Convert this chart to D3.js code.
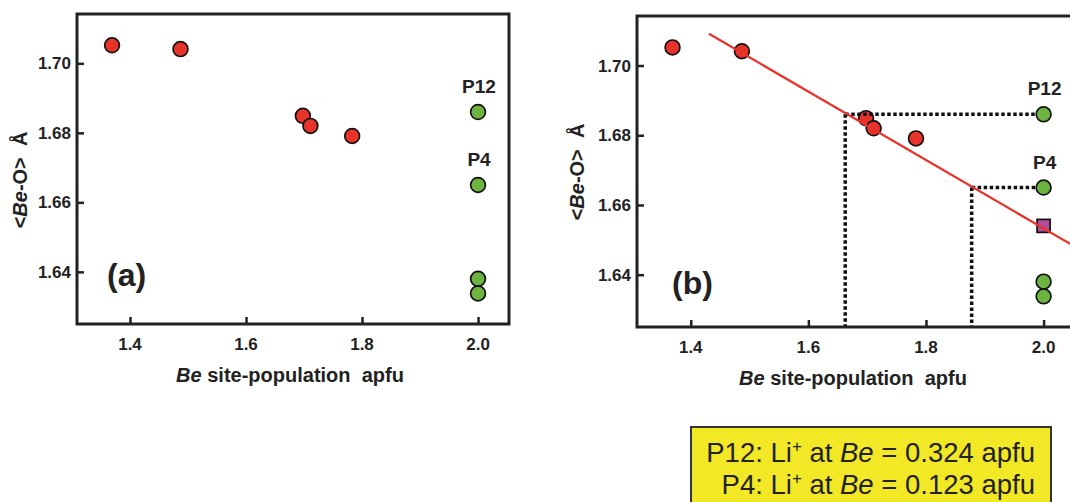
<!DOCTYPE html>
<html>
<head>
<meta charset="utf-8">
<script src="https://cdn.jsdelivr.net/npm/d3@7"></script>
<style>
  body { margin: 0; background: #fff; }
  svg { display: block; font-family: Arial, "Liberation Sans", sans-serif; }
</style>
</head>
<body>
<div id="chart"></div>
<script>
// data
var redX = [1.369, 1.487, 1.698, 1.711, 1.783];
var redY = [1.7052, 1.7041, 1.6849, 1.6820, 1.6791];
var greenX = [2.0, 2.0, 2.0, 2.0];
var greenY = [1.686, 1.665, 1.638, 1.6338];
var greenNames = ["P12", "P4", "", ""];
var squareX = [2.0];
var squareY = [1.654];
// regression line end points (panel b)
var fitX = [1.431, 2.07];
var fitY = [1.7091, 1.6464];
// where the P12 / P4 values hit the line
var readX = [1.6627, 1.8777];
var readY = [1.686, 1.665];
var xTicks = [1.4, 1.6, 1.8, 2.0];
var yTicks = [1.64, 1.66, 1.68, 1.70];
var xDomain = [1.3086, 2.0534];
var yDomain = [1.625, 1.7142];

var W = 1070, H = 502;
var svg = d3.select("#chart").append("svg")
  .attr("width", W).attr("height", H);

function panel(opt) {
  var g = svg.append("g").attr("transform", "translate(" + opt.x + "," + opt.y + ")");
  var x = d3.scaleLinear().domain(xDomain).range([0, opt.w]);
  var y = d3.scaleLinear().domain(yDomain).range([opt.h, 0]);

  // inward ticks
  var xAxis = d3.axisTop(x).tickValues(xTicks).tickSize(7).tickFormat("");
  var yAxis = d3.axisRight(y).tickValues(yTicks).tickSize(7).tickFormat("");
  g.append("g").attr("transform", "translate(0," + opt.h + ")").call(xAxis)
    .call(a => a.select(".domain").remove())
    .selectAll("line").attr("stroke", "#222").attr("stroke-width", 2.5);
  g.append("g").call(yAxis)
    .call(a => a.select(".domain").remove())
    .selectAll("line").attr("stroke", "#222").attr("stroke-width", 2.5);

  // tick labels
  g.append("g").selectAll("text").data(xTicks).join("text")
    .attr("x", d => x(d)).attr("y", opt.h + 26)
    .attr("text-anchor", "middle")
    .attr("font-size", 17).attr("font-weight", "bold").attr("fill", "#222")
    .text(d => d.toFixed(1));
  g.append("g").selectAll("text").data(yTicks).join("text")
    .attr("x", -6).attr("y", d => y(d) + 6)
    .attr("text-anchor", "end")
    .attr("font-size", 17).attr("font-weight", "bold").attr("fill", "#222")
    .text(d => d.toFixed(2));

  // axis titles
  var xt = g.append("text")
    .attr("x", opt.w / 2 - 3).attr("y", opt.h + 58)
    .attr("text-anchor", "middle")
    .attr("font-size", 20).attr("font-weight", "bold").attr("fill", "#222")
    .attr("xml:space", "preserve");
  xt.append("tspan").attr("font-style", "italic").text("Be");
  xt.append("tspan").text(" site-population  apfu");

  var yt = g.append("text")
    .attr("transform", "translate(" + opt.ytX + "," + opt.ytY + ") rotate(-90)")
    .attr("text-anchor", "middle")
    .attr("font-size", 20).attr("font-weight", "bold").attr("fill", "#222")
    .attr("xml:space", "preserve");
  yt.append("tspan").text("<");
  yt.append("tspan").attr("font-style", "italic").text("Be");
  yt.append("tspan").text("-O>  Å");

  // panel letter
  g.append("text")
    .attr("x", opt.lx).attr("y", opt.ly)
    .attr("font-size", 32).attr("font-weight", "bold").attr("fill", "#222")
    .text(opt.letter);

  var marks = g.append("g");

  // red points
  marks.append("g").selectAll("circle").data(redX).join("circle")
    .attr("cx", d => x(d)).attr("cy", (d, i) => y(redY[i])).attr("r", 7.4)
    .attr("fill", "#e8332a").attr("stroke", "#111").attr("stroke-width", 1.7);

  // green points (bottom first)
  var gIdx = d3.range(greenX.length).reverse();
  marks.append("g").selectAll("circle").data(gIdx).join("circle")
    .attr("cx", i => x(greenX[i])).attr("cy", i => y(greenY[i])).attr("r", 7.4)
    .attr("fill", "#6cb33f").attr("stroke", "#111").attr("stroke-width", 1.7);

  g.append("g").selectAll("text").data(d3.range(greenX.length).filter(i => greenNames[i]))
    .join("text")
    .attr("x", i => x(greenX[i]) + 1).attr("y", i => y(greenY[i]) - 19)
    .attr("text-anchor", "middle")
    .attr("font-size", 19).attr("font-weight", "bold").attr("fill", "#222")
    .text(i => greenNames[i]);

  if (opt.fit) {
    marks.append("g").selectAll("rect").data(squareX).join("rect")
      .attr("x", d => x(d) - 6.5).attr("y", (d, i) => y(squareY[i]) - 6.5)
      .attr("width", 13).attr("height", 13)
      .attr("fill", "#b44c9c").attr("stroke", "#111").attr("stroke-width", 1.7);

    // dotted read-off lines
    var dots = marks.append("g").attr("stroke", "#111").attr("stroke-width", 3.5)
      .attr("stroke-dasharray", "3.5,2.5").attr("fill", "none");
    dots.selectAll("line.h").data(readX).join("line").attr("class", "h")
      .attr("x1", d => x(d)).attr("x2", x(2.0) - 8)
      .attr("y1", (d, i) => y(readY[i])).attr("y2", (d, i) => y(readY[i]));
    dots.selectAll("line.v").data(readX).join("line").attr("class", "v")
      .attr("x1", d => x(d)).attr("x2", d => x(d))
      .attr("y1", (d, i) => y(readY[i])).attr("y2", opt.h);

    marks.append("path")
      .datum(d3.range(fitX.length))
      .attr("d", d3.line().x(i => x(fitX[i])).y(i => y(fitY[i])))
      .attr("stroke", "#e8332a").attr("stroke-width", 2.2).attr("fill", "none");
  }

  // frame
  g.append("rect").attr("x", 0).attr("y", 0).attr("width", opt.w).attr("height", opt.h)
    .attr("fill", "none").attr("stroke", "#222").attr("stroke-width", 3);
}

panel({ x: 77, y: 14, w: 432, h: 310, letter: "(a)", lx: 30, ly: 272,
        ytX: -50, ytY: 166, fit: false });
panel({ x: 637, y: 16, w: 438, h: 311, letter: "(b)", lx: 35, ly: 278,
        ytX: -53, ytY: 156, fit: true });

// yellow note box
var box = svg.append("g");
box.append("rect").attr("x", 691).attr("y", 427).attr("width", 360).attr("height", 90)
  .attr("fill", "#f3e826").attr("stroke", "#333").attr("stroke-width", 2);
var notes = [["P12", "0.324"], ["P4", "0.123"]];
notes.forEach(function (n, i) {
  var t = box.append("text")
    .attr("x", 1035).attr("y", 462 + i * 32)
    .attr("text-anchor", "end")
    .attr("font-size", 27.5).attr("fill", "#222")
    .attr("xml:space", "preserve");
  t.append("tspan").text(n[0] + ": Li");
  t.append("tspan").attr("font-size", 17).attr("dy", -10).text("+");
  t.append("tspan").attr("dy", 10).text(" at ");
  t.append("tspan").attr("font-style", "italic").text("Be");
  t.append("tspan").text(" = " + n[1] + " apfu");
});
</script>
</body>
</html>
